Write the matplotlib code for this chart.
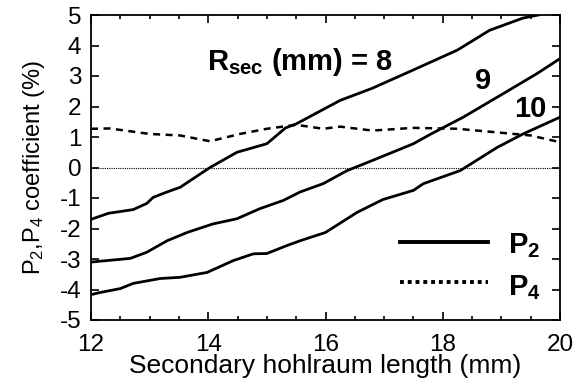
import matplotlib
matplotlib.use('Agg')
import matplotlib.pyplot as plt
import numpy as np
from matplotlib.ticker import MultipleLocator

plt.rcParams['font.family'] = ['Liberation Sans', 'DejaVu Sans']
plt.rcParams['mathtext.fontset'] = 'custom'
plt.rcParams['mathtext.rm'] = 'Liberation Sans'
plt.rcParams['mathtext.it'] = 'Liberation Sans'
plt.rcParams['mathtext.bf'] = 'Liberation Sans:bold'

# P2 curves for R_sec = 8, 9, 10 mm
x8 = [12.0, 12.3, 12.72, 12.95, 13.06, 13.3, 13.52, 14.03, 14.49, 15.0, 15.32, 15.5,
      16.25, 16.8, 17.5, 18.25, 18.8, 19.37, 19.63]
y8 = [-1.7, -1.5, -1.38, -1.18, -0.98, -0.8, -0.65, 0.0, 0.5, 0.78, 1.3, 1.43,
      2.2, 2.6, 3.2, 3.85, 4.5, 4.9, 5.0]

x9 = [12.0, 12.67, 12.95, 13.3, 13.64, 14.08, 14.49, 14.88, 15.28, 15.57, 15.96,
      16.37, 16.8, 17.5, 17.8, 18.35, 19.03, 19.6, 20.0]
y9 = [-3.1, -2.98, -2.78, -2.4, -2.13, -1.85, -1.68, -1.35, -1.08, -0.8, -0.53,
      -0.1, 0.23, 0.78, 1.1, 1.65, 2.42, 3.07, 3.57]

x10 = [12.0, 12.15, 12.5, 12.72, 13.18, 13.52, 13.98, 14.43, 14.77, 15.0, 15.34,
       15.57, 16.0, 16.54, 16.98, 17.5, 17.67, 18.3, 18.93, 19.37, 20.0]
y10 = [-4.17, -4.1, -3.97, -3.8, -3.64, -3.6, -3.44, -3.05, -2.83, -2.82, -2.56,
       -2.4, -2.13, -1.47, -1.05, -0.75, -0.53, -0.1, 0.66, 1.1, 1.65]

# P4 (all radii about the same)
x4 = [12.0, 12.32, 13.0, 13.52, 14.03, 14.54, 15.0, 15.5, 15.96, 16.25, 16.8,
      17.5, 18.25, 18.93, 19.5, 20.0]
y4 = [1.27, 1.28, 1.1, 1.05, 0.86, 1.1, 1.27, 1.4, 1.27, 1.34, 1.21,
      1.3, 1.27, 1.15, 1.05, 0.83]

fig = plt.figure(figsize=(5.87, 3.82), dpi=100)
ax = fig.add_axes([91/587, 1 - 320/382, (560 - 91)/587, (320 - 15)/382])

ax.plot(x8, y8, color='black', lw=2)
ax.plot(x9, y9, color='black', lw=2)
ax.plot(x10, y10, color='black', lw=2)
ax.plot(x4, y4, color='black', lw=1.8, ls=(0, (2.8, 2.2)))
ax.axhline(0, color='black', lw=0.8, ls=(0, (1, 1)))

ax.set_xlim(12, 20)
ax.set_ylim(-5, 5)
ax.xaxis.set_major_locator(MultipleLocator(2))
ax.xaxis.set_minor_locator(MultipleLocator(0.5))
ax.tick_params(which='both', direction='in', top=True, right=True,
               labelsize=17.5, width=1.2)
ax.tick_params(which='major', length=6, pad=7)
ax.tick_params(axis='x', which='major', pad=10)
ax.tick_params(which='minor', length=3)
for s in ax.spines.values():
    s.set_linewidth(1.3)

ax.set_yticks(range(-5, 6))
ax.set_yticklabels([str(v) for v in range(-5, 6)])

ax.set_xlabel('Secondary hohlraum length (mm)', fontsize=19, labelpad=-1)
ax.set_ylabel(r'P$_2$,P$_4$ coefficient (%)', fontsize=17, labelpad=9)

ax.text(13.98, 3.45, r'$\mathbf{R_{sec}}$ (mm) = 8', fontsize=21,
        fontweight='bold', va='center')
ax.text(18.69, 2.85, '9', fontsize=21, fontweight='bold', va='center', ha='center')
ax.text(19.49, 1.93, '10', fontsize=21, fontweight='bold', va='center', ha='center')

# legend drawn by hand
ax.plot([17.27, 18.77], [-2.43, -2.43], color='black', lw=2.8)
ax.plot([17.27, 18.77], [-3.77, -3.77], color='black', lw=2.8, ls=(0, (1, 1)))
ax.text(19.12, -2.82, r'$\mathbf{P_2}$', fontsize=21, va='baseline')
ax.text(19.12, -4.2, r'$\mathbf{P_4}$', fontsize=21, va='baseline')

fig.savefig('out.png', dpi=100)
